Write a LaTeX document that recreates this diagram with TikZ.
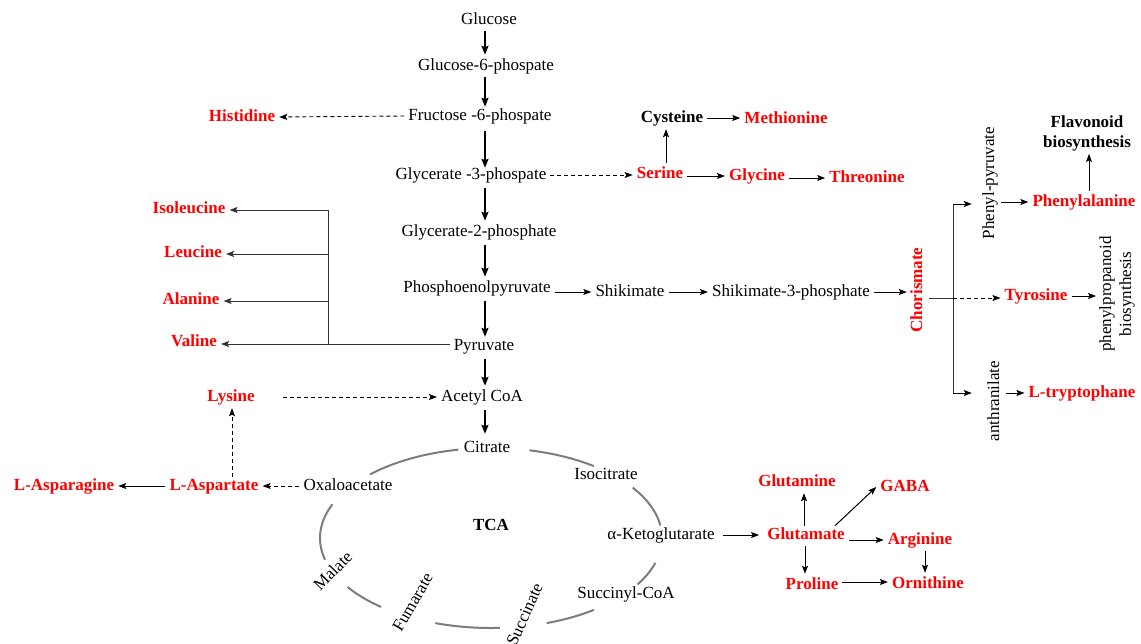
\documentclass[tikz,border=0pt]{standalone}
\usepackage{fontspec}
\setmainfont{Liberation Serif}
\usetikzlibrary{arrows.meta,calc}
\definecolor{aared}{RGB}{255,0,0}
\definecolor{tcagray}{RGB}{125,125,125}
\begin{document}
\begin{tikzpicture}[x=1pt,y=-1pt,
  every node/.style={inner xsep=4pt, inner ysep=3pt},
  tx/.style={font=\fontsize{17}{20}\selectfont, text height=12pt, text depth=4pt},
  met/.style={tx},
  aa/.style={tx, text=aared, font=\fontsize{17}{20}\selectfont\bfseries},
  bk/.style={tx, font=\fontsize{17}{20}\selectfont\bfseries},
  two/.style={align=center, font=\fontsize{17}{20}\selectfont},
  arr/.style={-{Stealth[length=8pt,width=6pt,inset=1.5pt]}, line width=1pt},
  mainarr/.style={-{Stealth[length=9pt,width=7pt,inset=1.5pt]}, line width=1.8pt},
  dasharr/.style={-{Stealth[length=8pt,width=6pt,inset=1.5pt]}, line width=0.9pt, dash pattern=on 4pt off 3pt},
  branch/.style={line width=1pt, draw=black!80},
  tcaarc/.style={draw=tcagray, line width=2pt}
]
\clip (0,0) rectangle (1141,643);
\fill[white] (0,0) rectangle (1141,643);

% main glycolysis column
\node[met] (glc) at (489,20) {Glucose};
\node[met] (g6p) at (486,66) {Glucose-6-phospate};
\node[met] (f6p) at (480,116) {Fructose -6-phospate};
\node[met] (g3p) at (471,175) {Glycerate -3-phospate};
\node[met] (g2p) at (479,232) {Glycerate-2-phosphate};
\node[met] (pep) at (477,288) {Phosphoenolpyruvate};
\node[met] (pyr) at (484,346) {Pyruvate};
\node[met] (aca) at (482,397) {Acetyl CoA};
\node[met] (cit) at (487,448) {Citrate};
\coordinate (mx) at (485,0);

\draw[mainarr] (glc.south -| mx) -- (g6p.north -| mx);
\draw[mainarr] (g6p.south -| mx) -- ([yshift=-2pt]f6p.north -| mx);
\draw[mainarr] ([yshift=-4pt]f6p.south -| mx) -- ([yshift=-4pt]g3p.north -| mx);
\draw[mainarr] ([yshift=-2pt]g3p.south -| mx) -- (g2p.north -| mx);
\draw[mainarr] ([yshift=-2pt]g2p.south -| mx) -- (pep.north -| mx);
\draw[mainarr] ([yshift=-2pt]pep.south -| mx) -- ([yshift=-2pt]pyr.north -| mx);
\draw[mainarr] ([yshift=-2pt]pyr.south -| mx) -- (aca.north -| mx);
\draw[mainarr] ([yshift=-2pt]aca.south -| mx) -- ([yshift=3pt]cit.north -| mx);

% histidine
\node[aa] (his) at (242,117) {Histidine};
\draw[dasharr] (f6p.west) -- (his.east);

% serine group
\node[aa] (ser) at (660,174) {Serine};
\node[bk] (cys) at (672,118) {Cysteine};
\node[aa] (meth) at (786,119) {Methionine};
\node[aa] (gly) at (757,176) {Glycine};
\node[aa] (thr) at (867,178) {Threonine};
\coordinate (cx) at (666,0);
\draw[dasharr] (g3p.east) -- (ser.west |- g3p.east);
\draw[arr] (ser.north -| cx) -- (cys.south -| cx);
\draw[arr] (cys.east) -- (meth.west |- cys.east);
\draw[arr] (ser.east |- gly.west) -- (gly.west);
\draw[arr] (gly.east |- thr.west) -- (thr.west);

% pyruvate family
\node[aa] (ile) at (189,209) {Isoleucine};
\node[aa] (leu) at (193,253) {Leucine};
\node[aa] (ala) at (191,300) {Alanine};
\node[aa] (val) at (194,342) {Valine};
\coordinate (vtop) at (328,210);
\coordinate (vbot) at (328,344);
\draw[branch] (pyr.west |- vbot) -- (vbot) -- (vtop);
\draw[arr, draw=black!80] (vtop) -- (ile.east |- vtop);
\draw[arr, draw=black!80] (328,254) -- (leu.east |- 0,254);
\draw[arr, draw=black!80] (328,301) -- (ala.east |- 0,301);
\draw[arr, draw=black!80] (vbot) -- (val.east |- vbot);

% lysine / aspartate
\node[aa] (lys) at (231,397) {Lysine};
\node[aa] (asp) at (214,486) {L-Aspartate};
\node[aa] (asn) at (64,486) {L-Asparagine};
\node[met] (oaa) at (348,486) {Oxaloacetate};
\coordinate (lx) at (232,0);
\draw[dasharr, shorten <=24pt] (lys.east |- aca.west) -- (aca.west);
\draw[dasharr] ([yshift=-2pt]asp.north -| lx) -- (lys.south -| lx);
\draw[dasharr] (oaa.west) -- (asp.east);
\draw[arr] (asp.west) -- (asn.east);

% TCA cycle
\def\ecx{491}\def\ecy{538}\def\erx{171}\def\ery{90}
\draw[tcaarc] plot[domain=101:135, samples=30, smooth] ({\ecx+\erx*cos(\x)},{\ecy-\ery*sin(\x)});
\draw[tcaarc] plot[domain=53:77, samples=30, smooth] ({\ecx+\erx*cos(\x)},{\ecy-\ery*sin(\x)});
\draw[tcaarc] plot[domain=8:34, samples=30, smooth] ({\ecx+\erx*cos(\x)},{\ecy-\ery*sin(\x)});
\draw[tcaarc] plot[domain=-31:-16, samples=30, smooth] ({\ecx+\erx*cos(\x)},{\ecy-\ery*sin(\x)});
\draw[tcaarc] plot[domain=-71:-53, samples=30, smooth] ({\ecx+\erx*cos(\x)},{\ecy-\ery*sin(\x)});
\draw[tcaarc] plot[domain=-109:-87, samples=30, smooth] ({\ecx+\erx*cos(\x)},{\ecy-\ery*sin(\x)});
\draw[tcaarc] plot[domain=-147:-130, samples=30, smooth] ({\ecx+\erx*cos(\x)},{\ecy-\ery*sin(\x)});
\draw[tcaarc] plot[domain=158:194, samples=40, smooth] ({\ecx+\erx*cos(\x)},{\ecy-\ery*sin(\x)});

\node[bk] (tca) at (491,526) {TCA};
\node[met] (ico) at (606,475) {Isocitrate};
\node[met] (akg) at (661,535) {α-Ketoglutarate};
\node[met] (sucoa) at (626,594) {Succinyl-CoA};
\node[met, rotate=46] (mal) at (334,572) {Malate};
\node[met, rotate=60] (fum) at (414,603) {Fumarate};
\node[met, rotate=66] (sca) at (526,615) {Succinate};

% glutamate family
\node[aa] (glu) at (806,535) {Glutamate};
\node[aa] (gln) at (797,482) {Glutamine};
\node[aa] (gaba) at (905,487) {GABA};
\node[aa] (arg) at (920,540) {Arginine};
\node[aa] (orn) at (928,584) {Ornithine};
\node[aa] (pro) at (812,585) {Proline};
\coordinate (gx) at (804,0);
\coordinate (px) at (805,0);
\coordinate (ax) at (925,0);
\draw[arr, shorten <=4pt, shorten >=4pt] (akg.east) -- (glu.west);
\draw[arr] ([yshift=-2pt]glu.north -| gx) -- (gln.south -| gx);
\draw[arr] ([xshift=-14pt,yshift=-2pt]glu.north east) -- (gaba.west);
\draw[arr] (glu.east |- arg.west) -- (arg.west);
\draw[arr] (glu.south -| px) -- (pro.north -| px);
\draw[arr] (arg.south -| ax) -- (orn.north -| ax);
\draw[arr] ([yshift=3pt]pro.east) -- ([yshift=3pt]orn.west |- pro.east);

% shikimate pathway
\node[met] (shk) at (630,292) {Shikimate};
\node[met] (s3p) at (791,292) {Shikimate-3-phosphate};
\node[aa, rotate=90] (chor) at (918,290) {Chorismate};
\draw[arr] (pep.east |- shk.west) -- (shk.west);
\draw[arr] (shk.east) -- (s3p.west);
\draw[arr] (s3p.east) -- (chor.north |- s3p.east);

\coordinate (bmid) at (953,298);
\coordinate (btop) at (953,204);
\coordinate (bbot) at (953,393);
\node[met, rotate=90] (pp) at (990,183) {Phenyl-pyruvate};
\node[met, rotate=90] (ant) at (995,401) {anthranilate};
\node[aa] (phe) at (1084,202) {Phenylalanine};
\node[aa] (tyr) at (1036,296) {Tyrosine};
\node[aa] (trp) at (1082,393) {L-tryptophane};
\node[two, font=\fontsize{17}{20}\selectfont\bfseries] (flav) at (1087,133) {Flavonoid\\biosynthesis};
\node[two, rotate=90] (ppb) at (1117,294) {phenylpropanoid\\biosynthesis};

\draw[branch] (chor.south |- bmid) -- (bmid);
\draw[branch] (btop) -- (bbot);
\draw[arr, shorten >=7pt] (btop) -- (pp.north |- btop);
\draw[arr, shorten >=12pt] (bbot) -- (ant.north |- bbot);
\draw[dasharr] (bmid) -- (tyr.west |- bmid);
\draw[arr] (pp.south |- phe.west) -- (phe.west);
\draw[arr] (ant.south |- trp.west) -- (trp.west);
\coordinate (fx) at (1089,0);
\draw[arr] (phe.north -| fx) -- (flav.south -| fx);
\draw[arr] (tyr.east) -- (ppb.north |- tyr.east);
\end{tikzpicture}
\end{document}
